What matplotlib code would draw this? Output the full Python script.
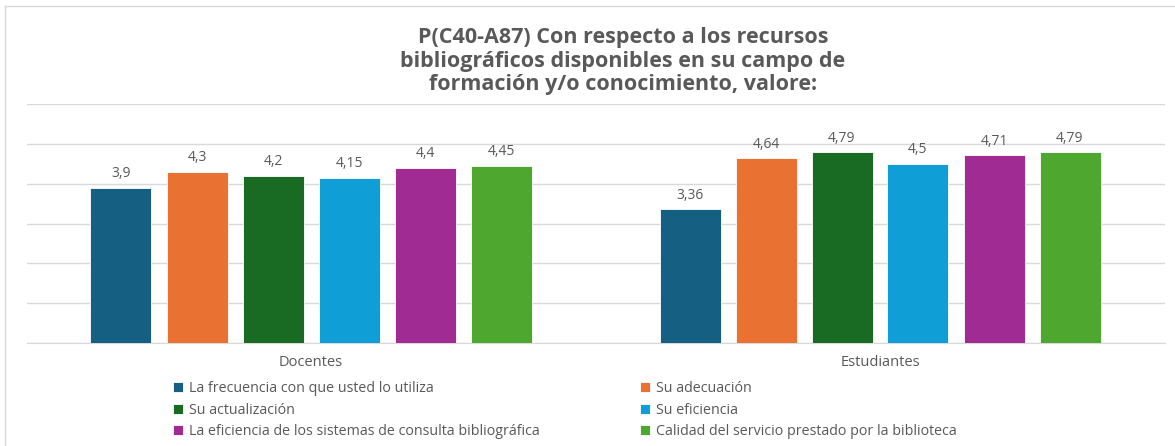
import matplotlib.pyplot as plt
import numpy as np

plt.rcParams['font.family'] = ['Open Sans', 'DejaVu Sans']

# Data
categories = ["Docentes", "Estudiantes"]
series_names = [
    "La frecuencia con que usted lo utiliza",
    "Su adecuación",
    "Su actualización",
    "Su eficiencia",
    "La eficiencia de los sistemas de consulta bibliográfica",
    "Calidad del servicio prestado por la biblioteca",
]
docentes = [3.9, 4.3, 4.2, 4.15, 4.4, 4.45]
estudiantes = [3.36, 4.64, 4.79, 4.5, 4.71, 4.79]
colors = ["#156082", "#E97132", "#196B24", "#0F9ED5", "#A02B93", "#4EA72E"]

title = ("P(C40-A87) Con respecto a los recursos\n"
         "bibliográficos disponibles en su campo de\n"
         "formación y/o conocimiento, valore:")

W, H = 1175, 446
fig = plt.figure(figsize=(W / 100, H / 100), dpi=100)
fig.patch.set_facecolor('white')

# chart area frame (screenshot border)
fig.add_artist(plt.Line2D([5 / W, 5 / W], [0, 1 - 6 / H], color='#D9D9D9', lw=1))
fig.add_artist(plt.Line2D([5 / W, 1], [1 - 6 / H, 1 - 6 / H], color='#D9D9D9', lw=1))

ax = fig.add_axes([26.5 / W, 1 - 343 / H, 1138 / W, 239 / H])
x = np.arange(len(categories))
step = 76 / 569
width = 61 / 569
values = np.array([docentes, estudiantes]).T
handles = []
for i, (name, col) in enumerate(zip(series_names, colors)):
    pos = x + (i - 2.5) * step
    bars = ax.bar(pos, values[i], width=width, color=col, edgecolor='white',
                  linewidth=0.6, label=name, zorder=3)
    handles.append(bars)
    for b, v in zip(bars, values[i]):
        ax.text(b.get_x() + b.get_width() / 2, v + 0.16, f"{v:g}".replace('.', ','),
                ha='center', va='bottom', fontsize=10, color='#595959')

ax.set_xlim(-0.5, 1.5)
ax.set_ylim(0, 6)
ax.set_yticks(range(0, 7))
ax.yaxis.grid(True, color='#D9D9D9', lw=1, zorder=0)
ax.tick_params(axis='y', left=False, labelleft=False)
ax.tick_params(axis='x', bottom=False, labelsize=10.5, labelcolor='#595959', pad=5)
ax.set_xticks(x)
ax.set_xticklabels(categories)
for s in ['top', 'right', 'left']:
    ax.spines[s].set_visible(False)
ax.spines['bottom'].set_color('#D9D9D9')

fig.text(623 / W, 1 - 61 / H, title, ha='center', va='center', fontsize=15.5,
         fontweight='bold', color='#595959', linespacing=1.15)

# row-wise legend order (matplotlib fills columns first)
order = [0, 2, 4, 1, 3, 5]
leg = fig.legend([handles[k] for k in order], [series_names[k] for k in order],
                 loc='upper left', bbox_to_anchor=(166 / W, 1 - 374 / H), ncol=2,
                 frameon=False, fontsize=10.3, labelcolor='#595959',
                 handlelength=0.7, handleheight=0.7, handletextpad=0.4,
                 columnspacing=7.0, labelspacing=0.45, borderpad=0)

fig.savefig('out.png', dpi=100, facecolor='white')
